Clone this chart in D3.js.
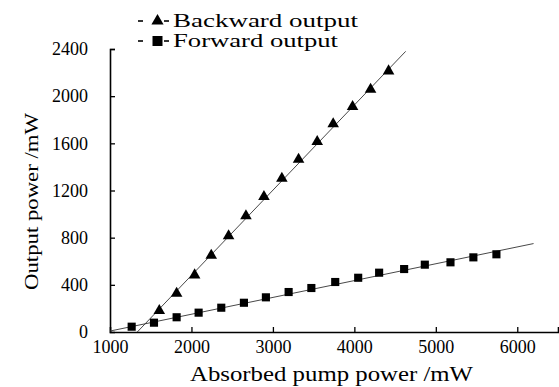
<!DOCTYPE html>
<html>
<head>
<meta charset="utf-8">
<script src="https://cdn.jsdelivr.net/npm/d3@7"></script>
<style>
  body { margin: 0; background: #fff; }
  text { font-family: "Liberation Serif", "DejaVu Serif", "Noto Serif", "Times New Roman", serif; fill: #000; }
</style>
</head>
<body>
<div id="chart"></div>
<script>
// data
const backwardPump  = [1605, 1818, 2039, 2243, 2456, 2669, 2890, 3110, 3315, 3544, 3740, 3978, 4199, 4420];
const backwardPower = [181, 328, 483, 650, 814, 984, 1147, 1303, 1464, 1614, 1764, 1911, 2058, 2213];
const forwardPump   = [1266, 1540, 1818, 2088, 2366, 2644, 2914, 3193, 3472, 3765, 4047, 4304, 4611, 4865, 5180, 5461, 5744];
const forwardPower  = [45, 79, 125, 164, 206, 248, 294, 339, 373, 424, 460, 503, 534, 571, 591, 633, 659];
// linear fit end points
const backwardFit = [[1335, 0], [4630, 2380]];
const forwardFit  = [[1000, 8], [6200, 750]];
const xTicks = [1000, 2000, 3000, 4000, 5000, 6000];
const yTicks = [0, 400, 800, 1200, 1600, 2000, 2400];
const legendLabels = ["Backward output", "Forward output"];

const W = 559, H = 387;
const margin = { top: 49, right: 1, bottom: 55, left: 110 },
      width = W - margin.left - margin.right,
      height = H - margin.top - margin.bottom;

const svg = d3.select("#chart").append("svg")
    .attr("width", W)
    .attr("height", H);

const g = svg.append("g")
    .attr("transform", `translate(${margin.left},${margin.top})`);

const x = d3.scaleLinear().domain([1000, 6500]).range([0, width]);
const y = d3.scaleLinear().domain([0, 2400]).range([height, 0]);

// axes, ticks point inward
const xAxis = g.append("g")
    .attr("transform", `translate(0,${height})`)
    .call(d3.axisBottom(x).tickValues(xTicks).tickSize(-5).tickPadding(8).tickFormat(d3.format("d")));
const yAxis = g.append("g")
    .call(d3.axisLeft(y).tickValues(yTicks).tickSize(-5).tickPadding(22).tickFormat(d3.format("d")));

[xAxis, yAxis].forEach(a => {
  a.attr("font-family", null);
  a.select(".domain").attr("stroke", "#000").attr("stroke-width", 1.6);
  a.selectAll(".tick line").attr("stroke", "#000").attr("stroke-width", 1.3);
  a.selectAll(".tick text").style("font-size", "18px");
});
xAxis.selectAll(".tick").filter(d => d === 1000).select("line").remove();
yAxis.selectAll(".tick").filter(d => d === 0).select("line").remove();

// fit lines
const line = d3.line().x(d => x(d[0])).y(d => y(d[1]));
[backwardFit, forwardFit].forEach(f => {
  g.append("path")
    .attr("d", line(f))
    .attr("fill", "none")
    .attr("stroke", "#333")
    .attr("stroke-width", 0.9);
});

// points
const tri = d3.symbol().type(d3.symbolTriangle).size(58);
const sq = d3.symbol().type(d3.symbolSquare).size(66);

g.selectAll(".bw")
  .data(backwardPump.map((p, i) => [p, backwardPower[i]]))
  .enter().append("path")
  .attr("class", "bw")
  .attr("d", tri)
  .attr("transform", d => `translate(${x(d[0])},${y(d[1])})`)
  .attr("fill", "#000");

g.selectAll(".fw")
  .data(forwardPump.map((p, i) => [p, forwardPower[i]]))
  .enter().append("path")
  .attr("class", "fw")
  .attr("d", sq)
  .attr("transform", d => `translate(${x(d[0])},${y(d[1])})`)
  .attr("fill", "#000");

// axis titles
svg.append("text")
  .attr("x", 190)
  .attr("y", 381)
  .attr("textLength", 283)
  .attr("lengthAdjust", "spacingAndGlyphs")
  .style("font-size", "21px")
  .text("Absorbed pump power /mW");

svg.append("text")
  .attr("transform", "rotate(-90)")
  .attr("x", -290)
  .attr("y", 38)
  .attr("textLength", 177)
  .attr("lengthAdjust", "spacingAndGlyphs")
  .style("font-size", "19px")
  .text("Output power /mW");

// legend
const legend = svg.append("g");
const legendSymbols = [d3.symbol().type(d3.symbolTriangle).size(64), d3.symbol().type(d3.symbolSquare).size(100)];
const legendWidths = [185, 165];
legendLabels.forEach((lab, i) => {
  const cy = 21 + i * 20;
  const row = legend.append("g").attr("transform", `translate(0,${cy})`);
  row.append("line").attr("x1", 138).attr("x2", 143).attr("stroke", "#000").attr("stroke-width", 1.6);
  row.append("line").attr("x1", 164).attr("x2", 169).attr("stroke", "#000").attr("stroke-width", 1.6);
  row.append("path").attr("d", legendSymbols[i]).attr("transform", "translate(157.5,0)").attr("fill", "#000");
  row.append("text")
    .attr("x", 173).attr("y", 6)
    .attr("textLength", legendWidths[i])
    .attr("lengthAdjust", "spacingAndGlyphs")
    .style("font-size", "18px")
    .text(lab);
});
</script>
</body>
</html>
